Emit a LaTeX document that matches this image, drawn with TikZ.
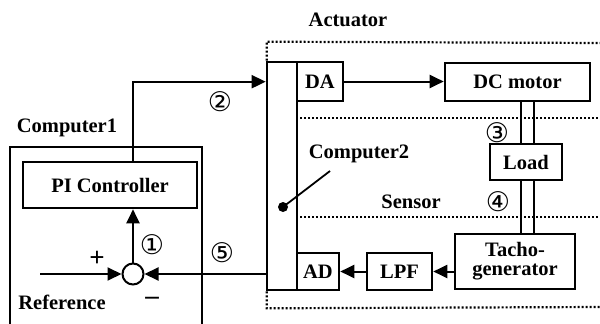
\documentclass[tikz,border=0pt]{standalone}
\usepackage{fontspec}
\setmainfont{Liberation Serif}
\newfontfamily\circfont{DejaVu Sans}
\usepackage{tikz}
\usetikzlibrary{arrows.meta,positioning,calc}
\tikzset{
  blk/.style={draw,line width=2.6pt,fill=white,inner sep=0pt,align=center},
  flow/.style={-{Triangle[length=14pt,width=13pt]},line width=2pt},
  shaft/.style={line width=2.6pt},
  zone/.style={line width=2.2pt,dash pattern=on 2pt off 2pt},
  lbl/.style={inner sep=0pt},
  num/.style={inner sep=0pt,font=\circfont\fontsize{27}{27}\selectfont},
}

\begin{document}
\begin{tikzpicture}[x=1pt,y=-1pt,font=\fontsize{20.5}{22}\selectfont\bfseries]
  \useasboundingbox (0,0) rectangle (600,324);

  % computer1, bottom edge runs off the picture
  \draw[line width=2.6pt] (10,326) |- (202,147) -- (202,326);
  \node[lbl] (c1lbl) at (67,128) {Computer1};
  \node[blk,minimum width=174pt,minimum height=46pt] (pic) at (110,185) {PI Controller};
  \node[draw,circle,line width=2pt,minimum size=21pt,inner sep=0pt] (sum) at (133,274) {};
  \coordinate (ref) at (40,274);
  \node[lbl,font=\fontsize{27}{27}\selectfont\bfseries] (plus) at (97,259) {+};
  \node[lbl,font=\fontsize{27}{27}\selectfont\bfseries] (minus) at (152,301) {--};
  \node[lbl] (reflbl) at (62,302) {Reference};

  % computer2 bar with the converters
  \node[blk,minimum width=30pt,minimum height=228pt] (bar) at (282,176) {};
  \node[blk,minimum width=46pt,minimum height=39pt] (da) at (320,81.5) {DA};
  \node[blk,minimum width=42pt,minimum height=37pt] (ad) at (318,271.5) {AD};
  \node[lbl] (c2lbl) at (359,154) {Computer2};
  \coordinate (c2dot) at (283,207);
  \coordinate (c2tip) at (330,171);
  \fill (c2dot) circle (5pt);
  \draw[line width=1.8pt] (c2dot) -- (c2tip);

  % plant side
  \node[blk,minimum width=145pt,minimum height=38pt] (motor) at (517.5,82) {DC motor};
  \node[blk,minimum width=72pt,minimum height=36pt] (load) at (526,162) {Load};
  \node[blk,minimum width=120pt,minimum height=55pt] (tacho) at (515,261.5) {Tacho-\\[-3pt]generator};
  \node[blk,minimum width=65pt,minimum height=37pt] (lpf) at (399.5,271.5) {LPF};

  % dotted zones
  \node[lbl] (actlbl) at (348,20) {Actuator};
  \node[lbl] (senlbl) at (411,202) {Sensor};
  \draw[zone] (bar.north west) ++(1,0) -- ++(0,-19) -- (600,43);
  \draw[zone] (bar.south west) ++(1,0) -- ++(0,17) -- (600,307);
  \draw[zone] (300,118) -- (600,118);
  \draw[zone] (300,217) -- (600,217);

  % signal flow
  \draw[flow] (sum |- pic.north) |- ([yshift=-21pt]bar.north west);
  \draw[flow] (sum.north) -- (sum |- pic.south);
  \draw[flow] (ref) -- (sum.west);
  \draw[flow] (bar.west |- sum) -- (sum.east);
  \draw[flow] (da.east) -- (da.east -| motor.west);
  \draw[flow] (lpf.east -| tacho.west) -- (lpf.east);
  \draw[flow] (lpf.west) -- (ad.east);
  \foreach \dx in {-5,8} {
    \draw[shaft] ([xshift=\dx pt]load.north) -- ([xshift=\dx pt]load.north |- motor.south);
    \draw[shaft] ([xshift=\dx pt]load.south) -- ([xshift=\dx pt]load.south |- tacho.north);
  }

  \node[num] (n1) at (152,245) {①};
  \node[num] (n2) at (220,102) {②};
  \node[num] (n3) at (497,133) {③};
  \node[num] (n4) at (498,202) {④};
  \node[num] (n5) at (222,253) {⑤};
\end{tikzpicture}
\end{document}
